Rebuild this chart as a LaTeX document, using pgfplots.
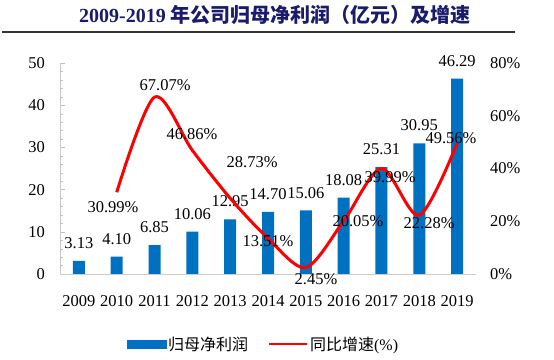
\documentclass[border=0pt]{standalone}
\usepackage{fontspec}
\setmainfont{Liberation Serif}
\newfontfamily\cjk{Noto Sans CJK SC}
\usepackage{pgfplots}
\pgfplotsset{compat=1.18}
\definecolor{barblue}{HTML}{0070C0}
\definecolor{titleblue}{HTML}{1B1B6E}
\newcommand{\lblfont}{\fontsize{16.5}{18}\selectfont}
\begin{document}
\begin{tikzpicture}
\path[use as bounding box] (0,0) rectangle (554pt,359pt);
\node[font=\fontsize{20}{24}\selectfont\bfseries, text=titleblue] at (275pt,344pt) {2009-2019 {\cjk 年公司归母净利润（亿元）及增速}};
\draw[line width=1.5pt, black!80] (2pt,327pt) -- (515pt,327pt);

\begin{axis}[
  at={(60pt,85pt)}, anchor=south west,
  scale only axis, width=416pt, height=211pt,
  xmin=-0.5, xmax=10.5, ymin=0, ymax=50,
  axis y line*=left, axis x line*=bottom,
  axis line style={black!20, line width=0.8pt},
  xtick={0,...,10},
  xticklabels={2009,2010,2011,2012,2013,2014,2015,2016,2017,2018,2019},
  ytick={0,10,...,50},
  minor y tick num=4,
  major tick length=5pt, minor tick length=3pt,
  tick style={black!25},
  x tick style={draw=none},
  ticklabel style={font=\lblfont, inner sep=0pt},
  yticklabel style={xshift=-15pt},
  xticklabel style={yshift=-16pt},
  /pgf/number format/assume math mode=true,
  ybar, bar width=12pt,
  clip=false,
  nodes near coords={\pgfmathprintnumber[fixed,fixed zerofill,precision=2]{\pgfplotspointmeta}},
  every node near coord/.append style={font=\lblfont, inner sep=0pt, yshift=12pt, text=black},
]
\addplot[fill=barblue, draw=none] coordinates {
  (0,3.13) (1,4.10) (2,6.85) (3,10.06) (4,12.95) (5,14.70)
  (6,15.06) (7,18.08) (8,25.31) (9,30.95) (10,46.29)};
\end{axis}

\begin{axis}[
  at={(60pt,85pt)}, anchor=south west,
  scale only axis, width=416pt, height=211pt,
  xmin=-0.5, xmax=10.5, ymin=0, ymax=80,
  axis y line*=right, axis x line=none,
  y axis line style={draw=none},
  ytick={0,20,...,80},
  yticklabel={\pgfmathprintnumber{\tick}\%},
  major tick length=0pt,
  yticklabel style={font=\lblfont, inner sep=0pt, xshift=14pt},
  /pgf/number format/assume math mode=true,
  clip=false,
  legend columns=2,
  legend style={draw=none, fill=none, at={(0.489,-0.332)}, anchor=center,
    font=\fontsize{16}{18}\selectfont,
    /tikz/every even column/.append style={column sep=18pt}},
]
\addlegendimage{legend image code/.code={\fill[barblue] (0pt,-4pt) rectangle (39pt,4pt);}}
\addlegendentry{\cjk 归母净利润}
\addlegendimage{legend image code/.code={\draw[red, line width=2pt] (0pt,0pt) -- (38pt,0pt);}}
\addlegendentry{{\cjk 同比增速}(\%)}
\addplot[red, line width=3pt, smooth, forget plot] coordinates {
  (1,30.99) (2,67.07) (3,46.86) (4,28.73) (5,13.51) (6,2.45)
  (7,20.05) (8,39.99) (9,22.28) (10,49.56)};
\begin{scope}[every node/.style={font=\lblfont, inner sep=0pt}]
\node at (axis cs:0.90,25.4) {30.99\%};
\node at (axis cs:2.28,71.7) {67.07\%};
\node at (axis cs:2.99,53.1) {46.86\%};
\node at (axis cs:4.58,42.5) {28.73\%};
\node at (axis cs:5.00,12.5) {13.51\%};
\node at (axis cs:6.27,-1.9) {2.45\%};
\node at (axis cs:7.38,20.1) {20.05\%};
\node at (axis cs:8.23,36.8) {39.99\%};
\node at (axis cs:9.26,19.3) {22.28\%};
\node at (axis cs:9.84,51.6) {49.56\%};
\end{scope}
\end{axis}
\end{tikzpicture}
\end{document}
